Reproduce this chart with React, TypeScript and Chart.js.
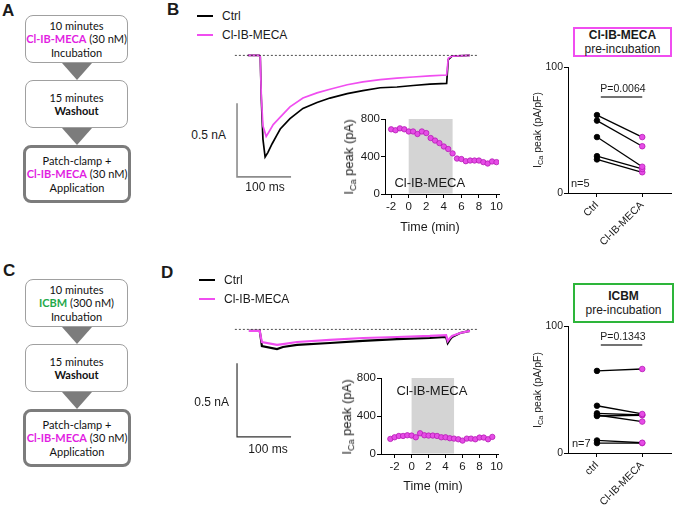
import React, { useEffect, useRef } from "react";
import { Chart, registerables } from "chart.js";
Chart.register(...registerables);

const SANS = "'Liberation Sans', Arial, Helvetica, sans-serif";
const FLOW = "Lato, 'Open Sans', sans-serif";
const MAG_LINE = "#f04ef0";
const MAG_TEXT = "#e21ee2";
const PT_FILL = "#e64ce6";
const PT_EDGE = "#b51cb5";
const GREEN_BOX = "#2db53a";
const GREEN_TEXT = "#1fa94a";
const INK = "#1a1a1a";

// ---------- Panel B: current traces (time ms, current nA) ----------
const traceBCtrlMs = [23, 44, 46, 48, 51, 55, 60, 68, 77, 83, 101, 125, 151, 175, 207, 236, 268, 299, 329, 360, 391, 394, 401, 434];
const traceBCtrlNa = [0, 0, -0.01, -0.3, -0.57, -0.69, -0.66, -0.6, -0.54, -0.5, -0.43, -0.36, -0.32, -0.29, -0.26, -0.24, -0.22, -0.215, -0.205, -0.195, -0.19, -0.03, -0.005, 0];
const traceBDrugMs = [23, 44, 46, 48, 51, 57, 62, 70, 83, 101, 125, 151, 175, 207, 236, 268, 299, 329, 360, 391, 394, 401, 434];
const traceBDrugNa = [0, 0, -0.01, -0.28, -0.48, -0.55, -0.52, -0.47, -0.42, -0.35, -0.29, -0.255, -0.23, -0.2, -0.18, -0.165, -0.155, -0.147, -0.14, -0.134, -0.02, -0.005, 0];

// ---------- Panel D: current traces ----------
const traceDCtrlMs = [25, 45, 47, 49, 77, 88, 114, 175, 236, 299, 360, 390, 393, 397, 401, 416, 434];
const traceDCtrlNa = [-0.011, -0.011, -0.06, -0.113, -0.134, -0.12, -0.106, -0.093, -0.079, -0.066, -0.059, -0.052, -0.093, -0.07, -0.052, -0.025, -0.011];
const traceDDrugMs = [25, 45, 47, 49, 77, 88, 114, 175, 236, 299, 360, 390, 393, 397, 401, 416, 434];
const traceDDrugNa = [-0.011, -0.011, -0.05, -0.086, -0.106, -0.1, -0.086, -0.072, -0.059, -0.052, -0.045, -0.039, -0.08, -0.06, -0.045, -0.025, -0.011];

const baselineMs = [-1, 447];
const scaleBarNa = 0.5;
const scaleBarMs = 100;

// ---------- Insets: peak I_Ca over time ----------
const insetTimeTicks = [-2, 0, 2, 4, 6, 8, 10];
const insetPeakTicks = [0, 400, 800];
const insetBTime = [-2, -1.5, -1, -0.5, 0, 0.5, 1, 1.5, 2, 2.5, 3, 3.5, 4, 4.5, 5, 5.5, 6, 6.5, 7, 7.5, 8, 8.5, 9, 9.5, 10];
const insetBPeak = [690, 680, 700, 690, 667, 667, 640, 667, 650, 597, 570, 543, 507, 480, 433, 378, 373, 350, 357, 357, 357, 340, 325, 347, 340];
const insetDTime = [-2.5, -2, -1.5, -1, -0.5, 0, 0.5, 1, 1.5, 2, 2.5, 3, 3.5, 4, 4.5, 5, 5.5, 6, 6.5, 7, 7.5, 8, 8.5, 9, 9.5];
const insetDPeak = [159, 176, 190, 190, 197, 194, 176, 218, 197, 194, 194, 190, 176, 176, 166, 162, 155, 141, 162, 162, 155, 173, 173, 155, 180];
const applicationWindow = [0, 5];

// ---------- Paired plots: I_Ca peak density (pA/pF) ----------
const pairedTicks = [0, 100];
const pairedBLabels = ["Ctrl", "Cl-IB-MECA"];
const pairedBCtrl = [62, 57.6, 44.5, 29.3, 26.7];
const pairedBDrug = [44.5, 37.2, 20.9, 19.1, 16.5];
const pairedBSigBar = 76.4;
const pairedDLabels = ["ctrl", "Cl-IB-MECA"];
const pairedDCtrl = [64.8, 37.3, 31.3, 30.0, 29.2, 9.9, 7.8];
const pairedDDrug = [66.3, 30.8, 30.0, 24.8, 29.8, 8.1, 7.8];
const pairedDSigBar = 85.2;

const zip = (xs: number[], ys: number[]) => xs.map((x, i) => ({ x, y: ys[i] }));

function makeInsetPlugin(o: any) {
  return {
    id: "insetShade",
    beforeDatasetsDraw(chart: any) {
      const { ctx, scales } = chart;
      const x = scales.x, y = scales.y;
      const x0 = x.getPixelForValue(o.from), x1 = x.getPixelForValue(o.to);
      const y0 = y.getPixelForValue(o.top), y1 = y.getPixelForValue(0) - 0.5;
      ctx.save();
      ctx.fillStyle = "#d4d4d4";
      ctx.fillRect(x0, y0, x1 - x0, y1 - y0);
      ctx.fillStyle = INK;
      ctx.font = `13px ${SANS}`;
      ctx.textAlign = "center";
      ctx.textBaseline = "middle";
      ctx.fillText(o.label, x.getPixelForValue(o.labelX), y.getPixelForValue(o.labelY));
      ctx.restore();
    },
  };
}

function axisStyle(fontSize: number, pad: number) {
  return {
    grid: { drawOnChartArea: false, drawTicks: true, tickLength: 4, color: "#000", lineWidth: 1 },
    border: { display: true, color: "#000", width: 1 },
    ticks: { font: { family: SANS, size: fontSize }, color: INK, padding: pad, autoSkip: false },
  };
}

function traceConfig(ctrlMs: number[], ctrlNa: number[], drugMs: number[], drugNa: number[], barMs: number, barNa: number, barColor: string, barWidth: number, traceWidth: number) {
  const line = (data: any, color: string, width: number, dash: number[] = []) => ({
    data, borderColor: color, borderWidth: width, borderDash: dash, pointRadius: 0, showLine: true, fill: false, tension: 0,
  });
  return {
    type: "scatter",
    data: {
      datasets: [
        line(zip(baselineMs, [0, 0]), "#222", 0.8, [2, 2]),
        line(zip(drugMs, drugNa), MAG_LINE, traceWidth),
        line(zip(ctrlMs, ctrlNa), "#000", traceWidth),
        line(zip([barMs, barMs, barMs + scaleBarMs], [barNa + scaleBarNa, barNa, barNa]), barColor, barWidth),
      ],
    },
    options: {
      animation: false, responsive: false, maintainAspectRatio: false,
      layout: { padding: 0 },
      plugins: { legend: { display: false }, tooltip: { enabled: false } },
      scales: {
        x: { type: "linear", display: false, min: -10, max: 462 },
        y: { type: "linear", display: false, min: -0.88, max: 0.07 },
      },
    },
  };
}

function insetConfig(times: number[], peaks: number[], xMin: number, xMax: number, labelY: number) {
  const xs = axisStyle(11.5, 2);
  const ys = axisStyle(11.5, 1);
  return {
    type: "scatter",
    data: {
      datasets: [{
        data: zip(times, peaks), pointRadius: 2.7, pointBackgroundColor: PT_FILL,
        pointBorderColor: PT_EDGE, pointBorderWidth: 0.8, showLine: false,
      }],
    },
    options: {
      animation: false, responsive: false, maintainAspectRatio: false,
      layout: { padding: { top: 9, right: 5, left: 0, bottom: 0 } },
      plugins: { legend: { display: false }, tooltip: { enabled: false } },
      scales: {
        x: {
          type: "linear", min: xMin, max: xMax, ...xs,
          ticks: { ...xs.ticks, maxRotation: 0, minRotation: 0 },
          afterBuildTicks: (s: any) => { s.ticks = insetTimeTicks.map((v) => ({ value: v })); },
          afterFit: (s: any) => { s.height = 41; },
        },
        y: {
          type: "linear", min: 0, max: 800, ...ys,
          afterBuildTicks: (s: any) => { s.ticks = insetPeakTicks.map((v) => ({ value: v })); },
          afterFit: (s: any) => { s.width = 45; },
        },
      },
    },
    plugins: [makeInsetPlugin({ from: applicationWindow[0], to: applicationWindow[1], top: 800, label: "Cl-IB-MECA", labelX: 2.4, labelY })],
  };
}

function pairedConfig(ctrl: number[], drug: number[], labels: string[], sigBar: number, xAxisH: number) {
  const xs = axisStyle(10.5, 2);
  const ys = axisStyle(10.5, 1);
  const pairs = ctrl.map((c, i) => ({
    data: [{ x: 0, y: c }, { x: 1, y: drug[i] }],
    showLine: true, borderColor: "#000", borderWidth: 1.3,
    pointRadius: 2.8, pointBackgroundColor: ["#000", PT_FILL],
    pointBorderColor: ["#000", PT_EDGE], pointBorderWidth: 0.8,
  }));
  const bar = {
    data: [{ x: 0.085, y: sigBar }, { x: 1, y: sigBar }],
    showLine: true, borderColor: "#444", borderWidth: 1.5, pointRadius: 0,
  };
  return {
    type: "scatter",
    data: { datasets: [...pairs, bar] },
    options: {
      animation: false, responsive: false, maintainAspectRatio: false,
      layout: { padding: { top: 6, right: 1, left: 0, bottom: 0 } },
      plugins: { legend: { display: false }, tooltip: { enabled: false } },
      scales: {
        x: {
          type: "linear", min: -0.64, max: 1.64, ...xs,
          ticks: { ...xs.ticks, maxRotation: 45, minRotation: 45, callback: (v: any) => labels[v] ?? "" },
          afterBuildTicks: (s: any) => { s.ticks = [0, 1].map((v) => ({ value: v })); },
          afterFit: (s: any) => { s.height = xAxisH; },
        },
        y: {
          type: "linear", min: 0, max: 100, ...ys,
          afterBuildTicks: (s: any) => { s.ticks = pairedTicks.map((v) => ({ value: v })); },
          afterFit: (s: any) => { s.width = 48; },
        },
      },
    },
  };
}

function ChartCanvas({ left, top, width, height, make }: any) {
  const ref = useRef<HTMLCanvasElement | null>(null);
  useEffect(() => {
    const chart = new Chart(ref.current as any, make());
    return () => chart.destroy();
  }, []);
  return <canvas ref={ref} width={width} height={height} style={{ position: "absolute", left, top, width, height, display: "block" }} />;
}

function Txt({ x, y, ax = 0.5, size = 12, bold = false, color = INK, family = SANS, rotate = 0, children }: any) {
  return (
    <div style={{
      position: "absolute", left: x, top: y, whiteSpace: "nowrap", fontFamily: family, fontSize: size,
      fontWeight: bold ? 700 : 400, color, lineHeight: 1,
      transform: `translate(${-ax * 100}%, -50%) rotate(${rotate}deg)`,
    }}>{children}</div>
  );
}

function YTitle({ x, y, unit, size }: any) {
  return (
    <Txt x={x} y={y} rotate={-90} size={size}>
      I<sub style={{ fontSize: "0.7em", verticalAlign: "-0.3em" }}>Ca</sub> peak ({unit})
    </Txt>
  );
}

function FlowBox({ left, top, width, height, thick = false, lines }: any) {
  return (
    <div style={{
      position: "absolute", left, top, width, height, boxSizing: "border-box",
      border: thick ? "3px solid #7c7c7c" : "1px solid #a0a0a0", borderRadius: 8, background: "#fff",
      display: "flex", flexDirection: "column", alignItems: "center", justifyContent: "center",
      fontFamily: FLOW, fontSize: 11, lineHeight: "13.5px", color: "#111",
    }}>
      {lines.map((l: any, i: number) => <div key={i} style={{ whiteSpace: "nowrap" }}>{l}</div>)}
    </div>
  );
}

function Arrow({ left, top }: any) {
  return <div style={{ position: "absolute", left, top, width: 0, height: 0, borderLeft: "15px solid transparent", borderRight: "15px solid transparent", borderTop: "17px solid #7c7c7c" }} />;
}

function Flow({ dy, firstDrug }: any) {
  const drug = <><b style={{ color: MAG_TEXT }}>Cl-IB-MECA</b> (30 nM)</>;
  return (
    <>
      <FlowBox left={25} top={15 + dy} width={103} height={48} lines={["10 minutes", firstDrug, "Incubation"]} />
      <Arrow left={62} top={63 + dy} />
      <FlowBox left={25} top={80 + dy} width={103} height={48} lines={["15 minutes", <b>Washout</b>]} />
      <Arrow left={62} top={128 + dy} />
      <FlowBox left={23} top={145 + dy} width={108} height={58} thick lines={["Patch-clamp +", drug, "Application"]} />
    </>
  );
}

function Legend({ x, y }: any) {
  return (
    <>
      <div style={{ position: "absolute", left: x, top: y - 1, width: 16, height: 2, background: "#000" }} />
      <Txt x={x + 25} y={y} ax={0}>Ctrl</Txt>
      <div style={{ position: "absolute", left: x, top: y + 18, width: 16, height: 2, background: MAG_LINE }} />
      <Txt x={x + 25} y={y + 19} ax={0}>Cl-IB-MECA</Txt>
    </>
  );
}

function StatBox({ x, y, w, h, color, title }: any) {
  return (
    <div style={{
      position: "absolute", left: x, top: y, width: w, height: h, boxSizing: "border-box",
      border: `2px solid ${color}`, background: "#fff", display: "flex", flexDirection: "column",
      alignItems: "center", justifyContent: "center", fontFamily: SANS, fontSize: 12, lineHeight: "14px", color: INK,
    }}>
      <div style={{ fontWeight: 700 }}>{title}</div>
      <div>pre-incubation</div>
    </div>
  );
}

export default function App() {
  return (
    <div style={{ position: "fixed", left: 0, top: 0, width: 676, height: 506, background: "#fff", overflow: "hidden" }}>
      {/* Panel letters */}
      <Txt x={2} y={10} ax={0} size={17} bold>A</Txt>
      <Txt x={167} y={9} ax={0} size={17} bold>B</Txt>
      <Txt x={3} y={270} ax={0} size={17} bold>C</Txt>
      <Txt x={161} y={272} ax={0} size={17} bold>D</Txt>

      {/* Panel A / C flow charts */}
      <Flow dy={0} firstDrug={<><b style={{ color: MAG_TEXT }}>Cl-IB-MECA</b> (30 nM)</>} />
      <Flow dy={264} firstDrug={<><b style={{ color: GREEN_TEXT }}>ICBM</b> (300 nM)</>} />

      {/* Panel B */}
      <Legend x={197} y={16} />
      <ChartCanvas left={230} top={45} width={255} height={140}
        make={() => traceConfig(traceBCtrlMs, traceBCtrlNa, traceBDrugMs, traceBDrugNa, 3, -0.825, "#8c8c8c", 1.6, 1.7)} />
      <Txt x={226} y={135} ax={1}>0.5 nA</Txt>
      <Txt x={265} y={187}>100 ms</Txt>
      <ChartCanvas left={340} top={110} width={165} height={125}
        make={() => insetConfig(insetBTime, insetBPeak, -2.7, 10.3, 117)} />
      <YTitle x={350} y={157} unit="pA" size={13} />
      <Txt x={430} y={227} size={12.5}>Time (min)</Txt>
      <StatBox x={573} y={27} w={99} h={30} color={MAG_LINE} title="Cl-IB-MECA" />
      <ChartCanvas left={520} top={60} width={156} height={190}
        make={() => pairedConfig(pairedBCtrl, pairedBDrug, pairedBLabels, pairedBSigBar, 57)} />
      <Txt x={623} y={88} size={10.5}>P=0.0064</Txt>
      <Txt x={571} y={183} ax={0} size={11}>n=5</Txt>
      <YTitle x={538} y={130} unit="pA/pF" size={10.5} />

      {/* Panel D */}
      <Legend x={199} y={280} />
      <ChartCanvas left={230} top={319} width={255} height={140}
        make={() => traceConfig(traceDCtrlMs, traceDCtrlNa, traceDDrugMs, traceDDrugNa, 3, -0.73, "#333", 1.2, 2.2)} />
      <Txt x={229} y={402} ax={1}>0.5 nA</Txt>
      <Txt x={268} y={449}>100 ms</Txt>
      <ChartCanvas left={336} top={369} width={169} height={126}
        make={() => insetConfig(insetDTime, insetDPeak, -3.6, 10.2, 663)} />
      <YTitle x={348} y={417} unit="pA" size={13} />
      <Txt x={433} y={486} size={12.5}>Time (min)</Txt>
      <StatBox x={573} y={283} w={101} h={40} color={GREEN_BOX} title="ICBM" />
      <ChartCanvas left={520} top={319} width={156} height={187}
        make={() => pairedConfig(pairedDCtrl, pairedDDrug, pairedDLabels, pairedDSigBar, 53)} />
      <Txt x={623} y={336} size={10.5}>P=0.1343</Txt>
      <Txt x={572} y={443} ax={0} size={11}>n=7</Txt>
      <YTitle x={538} y={390} unit="pA/pF" size={10.5} />
    </div>
  );
}
